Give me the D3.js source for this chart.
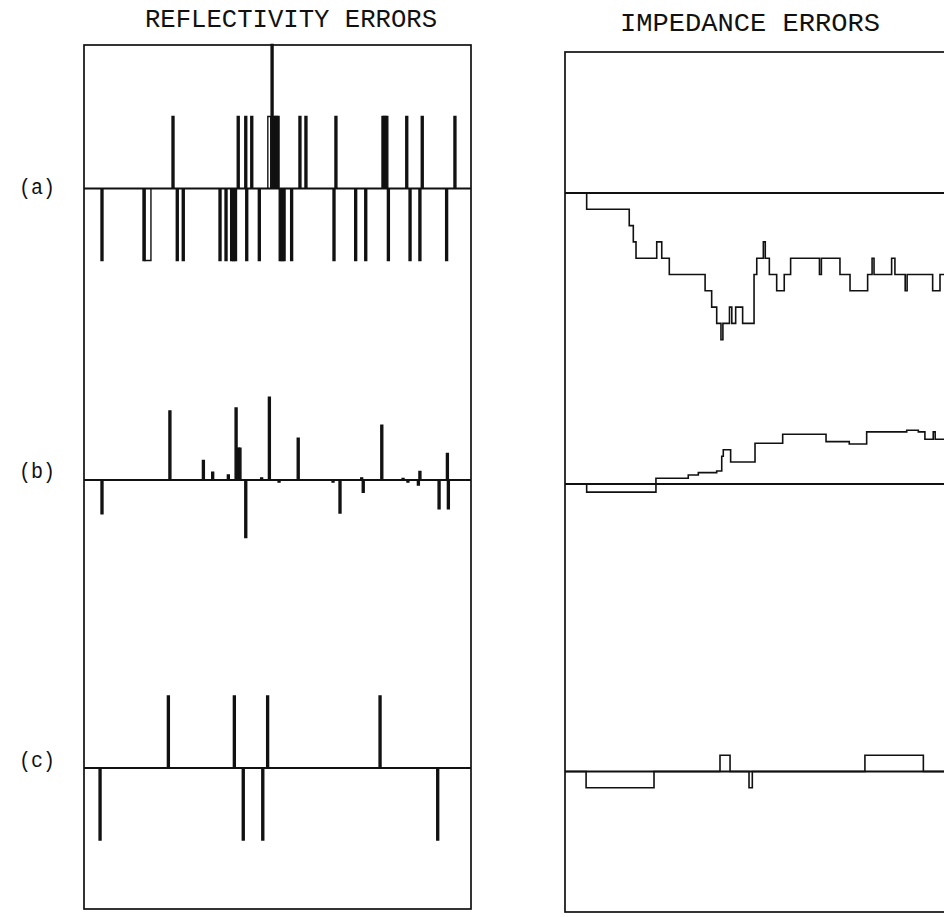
<!DOCTYPE html>
<html>
<head>
<meta charset="utf-8">
<script src="https://cdn.jsdelivr.net/npm/d3@7"></script>
<style>
  html, body { margin: 0; padding: 0; background: #fff; }
  svg { display: block; }
  text { font-family: "Liberation Mono", "DejaVu Sans Mono", monospace; fill: #111; }
</style>
</head>
<body>
<svg id="chart" width="944" height="917"></svg>
<script>
// ---------- data (sample index 0..200, values in reflectivity / impedance units) ----------
const panelTitles = ["REFLECTIVITY ERRORS", "IMPEDANCE ERRORS"];
const rowLabels = ["(a)", "(b)", "(c)"];

// reflectivity spikes: [sample, value, width in samples (optional, drawn as open block)]
const reflA = [[9.3,-1],[31,-1],[32,-1,3.1],[46,1],[48.2,-1],[51.3,-1],[70.3,-1],[73.4,-1],
  [76.3,-1],[77.3,-1],[78.3,-1],[79.7,1],[83.6,1],[84.1,-1],[86.7,1],[90.6,-1],[95.5,1,1.5],
  [97.2,2],[98.3,1],[99.3,1],[100.3,1],[101.4,-1],[102.4,-1],[103.4,-1],[107.3,-1],[111.6,1],
  [114.7,1],[129.2,-1],[130.2,1],[140.4,-1],[145.6,-1],[154.5,1],[155.5,1],[156.5,1],[157.3,-1],
  [166.8,1],[168.5,-1],[173.6,-1],[174.8,1],[187.4,-1],[191.7,1]];
const reflB = [[9.3,-0.47],[44.4,0.96],[61.7,0.27],[66.5,0.11],[74.6,0.07],[78.6,1.0],[79.8,0.44],
  [80.6,0.44],[83.6,-0.8],[91.8,0.03],[95.8,1.15],[100.8,-0.03],[110.7,0.58],[128.7,-0.03],
  [132.3,-0.46],[143.5,0.03],[144.3,-0.17],[153.9,0.76],[164.9,0.02],[167.4,-0.03],[172.8,-0.07],
  [173.6,0.12],[183.5,-0.4],[187.8,0.37],[188.3,-0.4]];
const reflC = [[8.3,-1],[43.6,1],[77.7,1],[82.3,-1],[92.4,-1],[94.9,1],[153,1],[182.8,-1]];

// impedance error step traces: [sample where level starts, level]
const impA = [[0,0],[11.2,-1],[33.2,-2],[35.3,-3],[36.7,-4],[47.4,-3],[50,-4],[53.9,-5],[72.4,-6],
  [75.8,-7],[78.4,-8],[80.6,-9],[81.6,-8],[85,-7],[86.2,-8],[88.2,-7],[91.8,-8],[97.7,-5],[99.1,-4],
  [102.5,-3],[103.5,-4],[105.6,-5],[109.4,-6],[113.3,-5],[116.6,-4],[131.5,-5],[132.5,-4],[142.1,-5],
  [147.3,-6],[156.4,-5],[158.7,-4],[159.7,-5],[168.8,-4],[170.5,-5],[175.8,-6],[176.8,-5],[190,-6],
  [193.8,-5],[200,-5]];
const impB = [[0,0],[11.2,-0.5],[47,0.35],[63.7,0.55],[68.9,0.7],[78.4,0.8],[81,1.7],[81.8,2.1],
  [85.6,1.35],[98.2,2.5],[112.5,3.05],[134.9,2.6],[146.9,2.45],[155.9,3.2],[176.6,3.3],[182.6,3.2],
  [186,2.75],[190.3,3.2],[191.3,2.75],[200,2.75]];
const impC = [[0,0],[10.9,-1],[46,0],[80.1,1],[85.3,0],[95.1,-1],[96.8,0],[155,1],[185.2,0],[200,0]];

// ---------- layout ----------
const svg = d3.select("#chart");
svg.append("rect").attr("width", 944).attr("height", 917).attr("fill", "#fff");

const left = {x0: 84, x1: 471, y0: 45, y1: 909, bases: [188.5, 480, 768]};
const right = {x0: 565, x1: 952, y0: 52, y1: 912, bases: [193, 484, 771.5]};
const reflUnit = 72;   // px per reflectivity unit
const impUnit = 16.3;  // px per impedance unit

const xL = d3.scaleLinear().domain([0, 200]).range([left.x0, left.x1]);
const xR = d3.scaleLinear().domain([0, 200]).range([right.x0, right.x1]);

// boxes
[left, right].forEach(p => {
  svg.append("rect")
    .attr("x", p.x0).attr("y", p.y0)
    .attr("width", p.x1 - p.x0).attr("height", p.y1 - p.y0)
    .attr("fill", "none").attr("stroke", "#111").attr("stroke-width", 1.7);
});

// titles
svg.append("text").attr("x", 145).attr("y", 27).attr("font-size", 25)
  .attr("textLength", 292).attr("lengthAdjust", "spacingAndGlyphs").text(panelTitles[0]);
svg.append("text").attr("x", 620).attr("y", 31).attr("font-size", 25)
  .attr("textLength", 260).attr("lengthAdjust", "spacingAndGlyphs").text(panelTitles[1]);

// row labels
rowLabels.forEach((lab, i) => {
  svg.append("text").attr("x", 19).attr("y", [194, 478, 767][i]).attr("font-size", 22)
    .attr("textLength", 36).attr("lengthAdjust", "spacingAndGlyphs").text(lab);
});

// reflectivity panels
[reflA, reflB, reflC].forEach((data, i) => {
  const base = left.bases[i];
  const y = d3.scaleLinear().domain([-1, 1]).range([base + reflUnit, base - reflUnit]);
  const g = svg.append("g");
  g.append("line").attr("x1", left.x0).attr("x2", left.x1)
    .attr("y1", y(0)).attr("y2", y(0)).attr("stroke", "#111").attr("stroke-width", 2);
  g.selectAll("path").data(data).join("path")
    .attr("d", d => {
      const n = d[2] || 1;
      const a = xL(d[0] - 0.5), b = xL(d[0] - 0.5 + n);
      return `M${a},${y(0)}V${y(d[1])}H${b}V${y(0)}`;
    })
    .attr("fill", d => d[2] ? "none" : "#111")
    .attr("stroke", "#111").attr("stroke-width", 1.4);
});

// impedance panels
[impA, impB, impC].forEach((data, i) => {
  const base = right.bases[i];
  const y = d3.scaleLinear().domain([-1, 1]).range([base + impUnit, base - impUnit]);
  const g = svg.append("g");
  g.append("line").attr("x1", right.x0).attr("x2", right.x1)
    .attr("y1", y(0)).attr("y2", y(0)).attr("stroke", "#111").attr("stroke-width", 2);
  const line = d3.line().x(d => xR(d[0])).y(d => y(d[1])).curve(d3.curveStepAfter);
  g.append("path").attr("d", line(data))
    .attr("fill", "none").attr("stroke", "#111").attr("stroke-width", 1.6);
});
</script>
</body>
</html>
